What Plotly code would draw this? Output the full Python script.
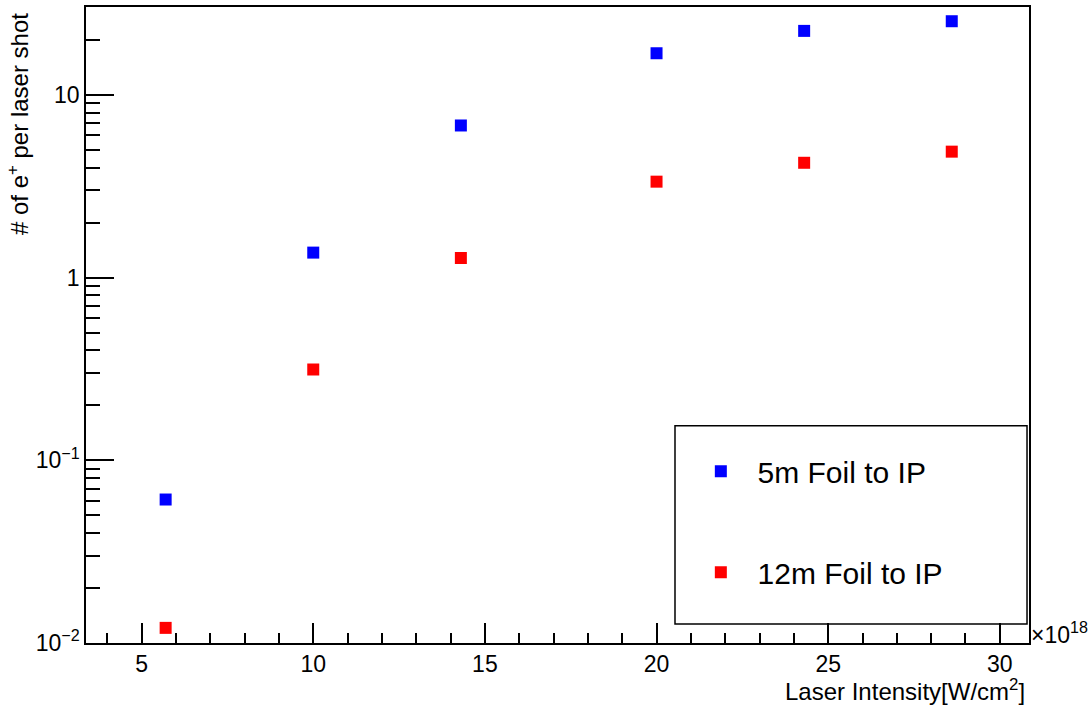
import plotly.graph_objects as go

# Data (x in units of 1e18 W/cm^2)
intensity_e18 = [5.7, 10.0, 14.3, 20.0, 24.3, 28.6]
positrons_5m = [0.061, 1.37, 6.8, 16.9, 22.4, 25.3]
positrons_12m = [0.0121, 0.314, 1.28, 3.35, 4.25, 4.89]
series_names = ["5m Foil to IP", "12m Foil to IP"]

y_tickvals = [0.01, 0.1, 1, 10]
y_ticktext = ["10<sup>\u22122</sup>", "10<sup>\u22121</sup>", "1", "10"]
y_minor = [m * d for d in [0.01, 0.1, 1, 10] for m in range(2, 10)]
x_tickvals = [5, 10, 15, 20, 25, 30]

FONT = "Liberation Sans, Arial, Helvetica, sans-serif"
PAD = "\u00a0\u00a0"

fig = go.Figure()
fig.add_trace(go.Scatter(
    x=intensity_e18, y=positrons_5m, mode="markers", name=PAD + series_names[0],
    legendgroup="a",
    marker=dict(symbol="square", size=12, color="rgb(0,0,255)", line=dict(width=0)),
))
fig.add_trace(go.Scatter(
    x=intensity_e18, y=positrons_12m, mode="markers", name=PAD + series_names[1],
    legendgroup="b",
    marker=dict(symbol="square", size=12, color="rgb(255,0,0)", line=dict(width=0)),
))

fig.update_layout(
    width=1089, height=706,
    margin=dict(l=86, r=60, t=5, b=63),
    paper_bgcolor="white", plot_bgcolor="white",
    font=dict(family=FONT, color="black", size=23),
    showlegend=True,
    legend=dict(
        x=0.652, y=0.311, xanchor="left", yanchor="top",
        bgcolor="rgba(0,0,0,0)", borderwidth=0,
        font=dict(size=30, family=FONT, color="black"),
        traceorder="grouped", tracegroupgap=59,
    ),
    shapes=[dict(
        type="rect", xref="paper", yref="paper",
        x0=0.6246, x1=0.9979, y0=0.0298, y1=0.3417,
        line=dict(color="black", width=1.5), fillcolor="white", layer="below",
    )],
)

fig.update_xaxes(
    range=[3.38, 30.85],
    showline=True, linecolor="black", linewidth=1.5, mirror=True,
    showgrid=False, zeroline=False,
    ticks="inside", ticklen=20, tickwidth=1.5, tickcolor="black",
    tickmode="array", tickvals=x_tickvals,
    tickfont=dict(size=23),
    minor=dict(ticks="inside", ticklen=10, tickwidth=1.5, tickcolor="black", dtick=1, tick0=0, showgrid=False),
)
fig.update_yaxes(
    type="log", range=[-2, 1.481],
    showline=True, linecolor="black", linewidth=1.5, mirror=True,
    showgrid=False, zeroline=False,
    ticks="inside", ticklen=28, tickwidth=1.5, tickcolor="black",
    tickmode="array", tickvals=y_tickvals, ticktext=y_ticktext,
    tickfont=dict(size=23),
    minor=dict(ticks="inside", ticklen=14, tickwidth=1.5, tickcolor="black",
               tickmode="array", tickvals=y_minor, showgrid=False),
)

fig.add_annotation(
    text="# of e<sup>+</sup> per laser shot", textangle=-90,
    xref="paper", yref="paper", x=0, y=1, xanchor="center", yanchor="top",
    xshift=-68, yshift=-4, showarrow=False, font=dict(size=24, family=FONT),
)
fig.add_annotation(
    text="Laser Intensity[W/cm<sup>2</sup>]",
    xref="paper", yref="paper", x=1, y=0, xanchor="right", yanchor="top",
    xshift=-2, yshift=-30, showarrow=False, font=dict(size=24, family=FONT),
)
fig.add_annotation(
    text="\u00d710<sup>18</sup>",
    xref="paper", yref="paper", x=1, y=0, xanchor="left", yanchor="middle",
    xshift=0, yshift=10, showarrow=False, font=dict(size=23, family=FONT),
)

fig.write_html("out.html", config={"displayModeBar": False},
               post_script="document.body.style.margin='0';")
